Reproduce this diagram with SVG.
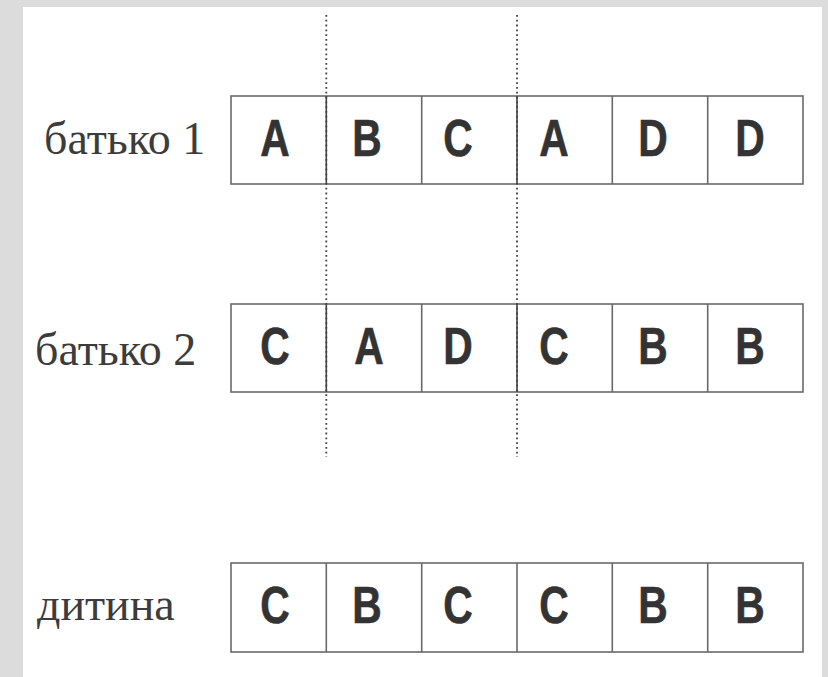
<svg xmlns="http://www.w3.org/2000/svg" width="828" height="677" viewBox="0 0 828 677">
<style>
.cell{fill:#fff;stroke:#6a6a6a;stroke-width:1.6}
.sep{stroke:#6a6a6a;stroke-width:1.6}
.lbl{font-family:"Liberation Serif","Times New Roman",serif;font-size:46px;fill:#3c3c3c}
.g{font-family:"Liberation Sans",Arial,sans-serif;font-weight:bold;font-size:51px;fill:#333;stroke:#333;stroke-width:0.6;text-anchor:middle}
.dot{stroke:#444;stroke-width:1.8;stroke-dasharray:1.8 3;fill:none}
.cut{stroke:#444;stroke-width:1.6}
</style>
<rect x="0" y="0" width="828" height="677" fill="#dcdcdc"/>
<rect x="23" y="7" width="799" height="670" fill="#fff"/>

<g id="row1">
<text class="lbl" x="44" y="154">батько 1</text>
<rect class="cell" x="231" y="96" width="572" height="88"/>
<path class="sep" d="M421.7 96V184M612.3 96V184M707.7 96V184"/>
<g transform="translate(275 156) scale(0.8 1)"><text class="g">A</text></g>
<g transform="translate(367 156) scale(0.8 1)"><text class="g">B</text></g>
<g transform="translate(458 156) scale(0.8 1)"><text class="g">C</text></g>
<g transform="translate(554 156) scale(0.8 1)"><text class="g">A</text></g>
<g transform="translate(653 156) scale(0.8 1)"><text class="g">D</text></g>
<g transform="translate(750 156) scale(0.8 1)"><text class="g">D</text></g>
</g>

<g id="row2">
<text class="lbl" x="35" y="365">батько 2</text>
<rect class="cell" x="231" y="304" width="572" height="88"/>
<path class="sep" d="M421.7 304V392M612.3 304V392M707.7 304V392"/>
<g transform="translate(275 364) scale(0.8 1)"><text class="g">C</text></g>
<g transform="translate(369 364) scale(0.8 1)"><text class="g">A</text></g>
<g transform="translate(458 364) scale(0.8 1)"><text class="g">D</text></g>
<g transform="translate(554 364) scale(0.8 1)"><text class="g">C</text></g>
<g transform="translate(653 364) scale(0.8 1)"><text class="g">B</text></g>
<g transform="translate(750 364) scale(0.8 1)"><text class="g">B</text></g>
</g>

<g id="row3">
<text class="lbl" x="37" y="620">дитина</text>
<rect class="cell" x="231" y="563" width="572" height="89"/>
<path class="sep" d="M326.3 563V652M421.7 563V652M517 563V652M612.3 563V652M707.7 563V652"/>
<g transform="translate(275 623) scale(0.8 1)"><text class="g">C</text></g>
<g transform="translate(367 623) scale(0.8 1)"><text class="g">B</text></g>
<g transform="translate(458 623) scale(0.8 1)"><text class="g">C</text></g>
<g transform="translate(554 623) scale(0.8 1)"><text class="g">C</text></g>
<g transform="translate(653 623) scale(0.8 1)"><text class="g">B</text></g>
<g transform="translate(750 623) scale(0.8 1)"><text class="g">B</text></g>
</g>

<g id="connectors">
<path class="cut" d="M326.3 96V184M517 96V184M326.3 304V392M517 304V392"/>
<path class="dot" d="M326.3 15V457M517 15V457"/>
</g>
</svg>
